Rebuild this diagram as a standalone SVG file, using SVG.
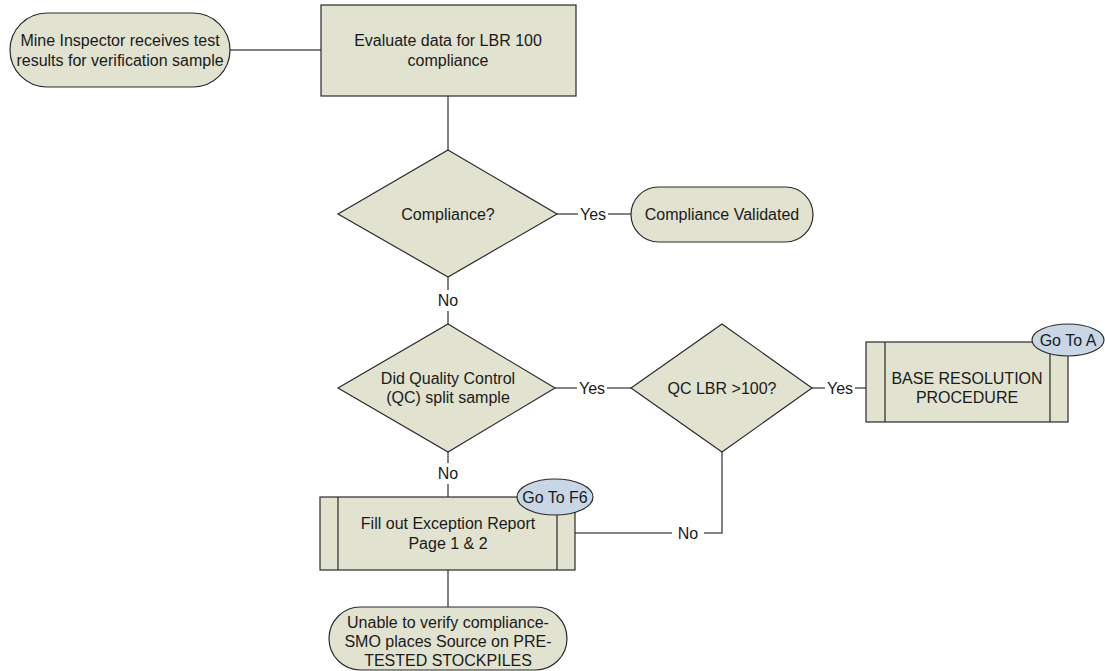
<svg xmlns="http://www.w3.org/2000/svg" width="1105" height="671" viewBox="0 0 1105 671">
<style>
.shape{fill:#e1e2d0;stroke:#2b2b2b;stroke-width:1.2}
.goto{fill:#c9d6e6;stroke:#2b2b2b;stroke-width:1.2}
.conn{fill:none;stroke:#5a5a5a;stroke-width:1.5}
text{font-family:"Liberation Sans",Arial,sans-serif;font-size:16px;fill:#1a1a1a;text-anchor:middle;dominant-baseline:central}
</style>
<rect width="1105" height="671" fill="#ffffff"/>
<g id="connectors">
<line class="conn" x1="230" y1="50" x2="321" y2="50"/>
<line class="conn" x1="448" y1="96" x2="448" y2="150"/>
<line class="conn" x1="557" y1="214" x2="578" y2="214"/>
<line class="conn" x1="608" y1="214" x2="631" y2="214"/>
<line class="conn" x1="448" y1="277" x2="448" y2="290"/>
<line class="conn" x1="448" y1="311" x2="448" y2="324"/>
<line class="conn" x1="555" y1="388" x2="577" y2="388"/>
<line class="conn" x1="607" y1="388" x2="631" y2="388"/>
<line class="conn" x1="812" y1="388" x2="825" y2="388"/>
<line class="conn" x1="855" y1="388" x2="866" y2="388"/>
<line class="conn" x1="448" y1="452" x2="448" y2="463"/>
<line class="conn" x1="448" y1="484" x2="448" y2="497"/>
<polyline class="conn" points="575,533 672,533"/>
<polyline class="conn" points="704,533 722,533 722,452"/>
<line class="conn" x1="448" y1="570" x2="448" y2="607"/>
<text x="593" y="214">Yes</text>
<text x="448" y="300">No</text>
<text x="592" y="388">Yes</text>
<text x="840" y="388">Yes</text>
<text x="448" y="473">No</text>
<text x="688" y="533">No</text>
</g>
<g id="start">
<rect class="shape" x="10" y="13" width="220" height="74" rx="37" ry="37"/>
<text x="120" y="40">Mine Inspector receives test</text>
<text x="120" y="60">results for verification sample</text>
</g>
<g id="evaluate">
<rect class="shape" x="321" y="5" width="255" height="91"/>
<text x="448" y="40">Evaluate data for LBR 100</text>
<text x="448" y="60">compliance</text>
</g>
<g id="compliance">
<polygon class="shape" points="448,150 557,214 448,277 338,214"/>
<text x="448" y="214">Compliance?</text>
</g>
<g id="validated">
<rect class="shape" x="631" y="187" width="182" height="55" rx="27.5" ry="27.5"/>
<text x="722" y="214">Compliance Validated</text>
</g>
<g id="qc-split">
<polygon class="shape" points="448,324 555,388 448,452 338,388"/>
<text x="448" y="378">Did Quality Control</text>
<text x="448" y="397">(QC) split sample</text>
</g>
<g id="qc-lbr">
<polygon class="shape" points="722,324 812,388 722,452 631,388"/>
<text x="722" y="388">QC LBR &gt;100?</text>
</g>
<g id="base-resolution">
<rect class="shape" x="866" y="342" width="202" height="80"/>
<line class="shape" x1="885" y1="342" x2="885" y2="422"/>
<line class="shape" x1="1050" y1="342" x2="1050" y2="422"/>
<text x="967" y="378">BASE RESOLUTION</text>
<text x="967" y="397">PROCEDURE</text>
<ellipse class="goto" cx="1068" cy="340" rx="36" ry="16"/>
<text x="1068" y="340">Go To A</text>
</g>
<g id="exception-report">
<rect class="shape" x="320" y="497" width="255" height="73"/>
<line class="shape" x1="338" y1="497" x2="338" y2="570"/>
<line class="shape" x1="557" y1="497" x2="557" y2="570"/>
<text x="448" y="523">Fill out Exception Report</text>
<text x="448" y="543">Page 1 &amp; 2</text>
<ellipse class="goto" cx="555" cy="497" rx="38" ry="18"/>
<text x="555" y="497">Go To F6</text>
</g>
<g id="unable">
<rect class="shape" x="329" y="607" width="238" height="63" rx="31.5" ry="31.5"/>
<text x="448" y="622">Unable to verify compliance-</text>
<text x="448" y="641">SMO places Source on PRE-</text>
<text x="448" y="660">TESTED STOCKPILES</text>
</g>
</svg>
